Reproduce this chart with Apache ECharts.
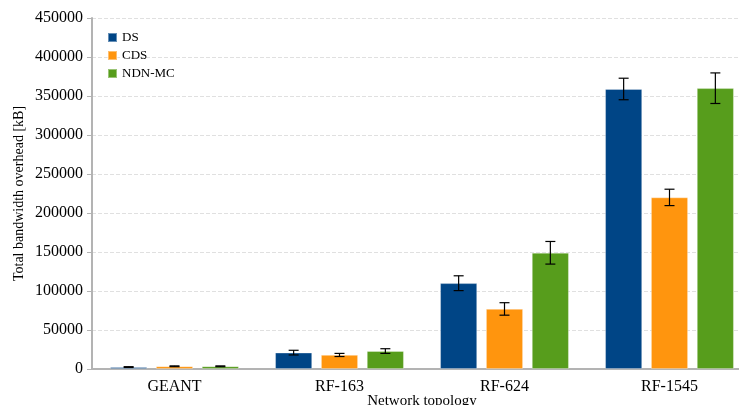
<!DOCTYPE html>
<html>
<head>
<meta charset="utf-8">
<script src="https://cdn.jsdelivr.net/npm/echarts@6/dist/echarts.min.js"></script>
<style>
  html, body { margin: 0; padding: 0; background: #fff; }
  #chart { width: 739px; height: 405px; }
</style>
</head>
<body>
<div id="chart"></div>
<script>
// topologies on the x axis
var topologies = ['GEANT', 'RF-163', 'RF-624', 'RF-1545'];
var seriesNames = ['DS', 'CDS', 'NDN-MC'];
var colors = ['#004586', '#ff950e', '#579d1c'];

// mean values [kB]
var dsValues = [2500, 21000, 110000, 359000];
var cdsValues = [3500, 18000, 77000, 220000];
var ndnValues = [3500, 23000, 149000, 360000];

// half width of the error bars [kB]
var dsErr = [500, 3000, 9500, 13800];
var cdsErr = [500, 2000, 8000, 10500];
var ndnErr = [500, 3000, 14500, 19600];

var values = [dsValues, cdsValues, ndnValues];
var errors = [dsErr, cdsErr, ndnErr];

var FONT = "'Liberation Serif', 'Times New Roman', serif";
var catGap = 0.22;   // barCategoryGap
var barGap = 0.24;   // barGap

var chart = echarts.init(document.getElementById('chart'));

// error bar renderer, offset like the bars of series idx
function errRenderer(idx) {
  return function (params, api) {
    var ci = api.value(0);
    var lo = api.coord([ci, api.value(1)]);
    var hi = api.coord([ci, api.value(2)]);
    var band = api.size([1, 0])[0];
    var used = band * (1 - catGap);
    var bw = used / (3 + 2 * barGap);
    var x = lo[0] - used / 2 + bw / 2 + idx * bw * (1 + barGap);
    var cap = 5;
    var st = { stroke: '#000', lineWidth: 1.2 };
    return {
      type: 'group',
      children: [
        { type: 'line', shape: { x1: x, y1: lo[1], x2: x, y2: hi[1] }, style: st },
        { type: 'line', shape: { x1: x - cap, y1: lo[1], x2: x + cap, y2: lo[1] }, style: st },
        { type: 'line', shape: { x1: x - cap, y1: hi[1], x2: x + cap, y2: hi[1] }, style: st }
      ]
    };
  };
}

var series = [];
seriesNames.forEach(function (name, i) {
  series.push({
    name: name,
    type: 'bar',
    data: values[i],
    barGap: (barGap * 100) + '%',
    barCategoryGap: (catGap * 100) + '%',
    itemStyle: { color: colors[i], borderColor: 'rgba(255,255,255,0.4)', borderWidth: 0.8 }
  });
});
seriesNames.forEach(function (name, i) {
  series.push({
    type: 'custom',
    renderItem: errRenderer(i),
    data: values[i].map(function (v, k) { return [k, v - errors[i][k], v + errors[i][k]]; }),
    z: 10,
    silent: true
  });
});

chart.setOption({
  animation: false,
  textStyle: { fontFamily: FONT },
  legend: {
    data: seriesNames.map(function (n, i) { return { name: n, itemStyle: { color: colors[i] } }; }),
    orient: 'vertical',
    left: 102,
    top: 26,
    itemWidth: 9,
    itemHeight: 9,
    itemGap: 5,
    icon: 'rect',
    textStyle: { fontFamily: FONT, fontSize: 13, color: '#000' }
  },
  grid: { left: 92, right: -13, top: 18, bottom: 36, containLabel: false, outerBoundsMode: 'none' },
  xAxis: {
    type: 'category',
    data: topologies,
    name: 'Network topology',
    nameLocation: 'middle',
    nameGap: 25,
    nameMoveOverlap: false,
    nameTextStyle: { fontFamily: FONT, fontSize: 15, color: '#000' },
    axisLine: { lineStyle: { color: '#b3b3b3', width: 2 } },
    axisTick: { length: 6, lineStyle: { color: '#b3b3b3', width: 2 } },
    axisLabel: { fontFamily: FONT, fontSize: 16, color: '#000', margin: 10 }
  },
  yAxis: {
    type: 'value',
    min: 0,
    max: 450000,
    interval: 50000,
    name: 'Total bandwidth overhead [kB]',
    nameLocation: 'middle',
    nameGap: 66,
    nameMoveOverlap: false,
    nameTextStyle: { fontFamily: FONT, fontSize: 14, color: '#000' },
    axisLine: { show: true, lineStyle: { color: '#b3b3b3', width: 2 } },
    axisTick: { show: true, length: 5, lineStyle: { color: '#b3b3b3' } },
    axisLabel: { fontFamily: FONT, fontSize: 16, color: '#000', margin: 9,
      formatter: function (v) { return String(v); } },
    splitLine: { lineStyle: { color: '#e0e0e0', type: 'dashed' } }
  },
  series: series
});
</script>
</body>
</html>
